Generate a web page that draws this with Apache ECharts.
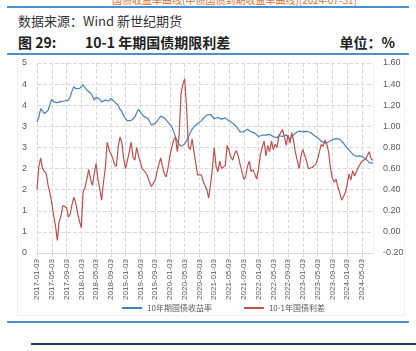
<!DOCTYPE html>
<html>
<head>
<meta charset="utf-8">
<script src="https://cdn.jsdelivr.net/npm/echarts@6/dist/echarts.min.js"></script>
<style>
    html, body { margin: 0; padding: 0; background: #fff; }
    body { width: 416px; height: 351px; position: relative; overflow: hidden; font-family: "Noto Sans CJK SC", sans-serif; }
    .txt { position: absolute; white-space: nowrap; color: #222; }
    .hline { position: absolute; height: 2px; background: #4a90d0; }
</style>
</head>
<body>
<div class="txt" style="left:112px; top:-8px; font-size:10px; color:#e0702a;">国债收益率曲线(中债国债到期收益率曲线)[2024-07-31]</div>
<div class="hline" style="left:7px; top:6px; width:402px;"></div>
<div class="txt" style="left:18px; top:11px; font-size:13px; color:#333;">数据来源：Wind 新世纪期货</div>
<div class="txt" style="left:18px; top:32px; font-size:14px; font-weight:bold;">图 29:</div>
<div class="txt" style="left:85px; top:32px; font-size:14px; font-weight:bold;">10-1 年期国债期限利差</div>
<div class="txt" style="right:21px; top:32px; font-size:14px; font-weight:bold;">单位：%</div>
<div class="hline" style="left:7px; top:53px; width:402px;"></div>
<div style="position:absolute; left:17px; top:58px; width:386px; height:257px; border:1px solid #f0f0f0; border-top:none;"></div>
<div id="chart" style="position:absolute; left:0; top:0; width:416px; height:351px;"></div>
<div class="hline" style="left:7px; top:321px; width:402px;"></div>
<div style="position:absolute; left:31px; top:343px; width:385px; height:2px; background:#1f3864;"></div>

<script>
    // 10年期国债收益率 (left axis, %)
    let yield10 = [
        3.10, 3.22, 3.42, 3.40, 3.30, 3.27, 3.38, 3.52, 3.64, 3.58,
        3.54, 3.56, 3.58, 3.59, 3.61, 3.60, 3.63, 3.62, 3.70, 3.84,
        3.94, 3.89, 3.87, 3.90, 3.94, 3.98, 3.92, 3.86, 3.82, 3.79,
        3.72, 3.62, 3.69, 3.68, 3.64, 3.58, 3.56, 3.62, 3.58, 3.60,
        3.66, 3.63, 3.58, 3.55, 3.50, 3.40, 3.34, 3.24, 3.18, 3.13,
        3.11, 3.14, 3.17, 3.22, 3.32, 3.40, 3.34, 3.28, 3.23, 3.20,
        3.19, 3.12, 3.03, 3.05, 3.07, 3.12, 3.15, 3.24, 3.25, 3.20,
        3.15, 3.11, 3.04, 2.99, 2.88, 2.75, 2.65, 2.58, 2.53, 2.51,
        2.58, 2.66, 2.75, 2.84, 2.93, 2.99, 3.02, 3.06, 3.09, 3.13,
        3.18, 3.22, 3.27, 3.31, 3.28, 3.24, 3.18, 3.19, 3.21, 3.19,
        3.17, 3.18, 3.20, 3.18, 3.13, 3.10, 3.08, 3.04, 2.99, 2.93,
        2.87, 2.88, 2.87, 2.89, 2.93, 2.91, 2.87, 2.85, 2.84, 2.83,
        2.76, 2.73, 2.79, 2.82, 2.79, 2.78, 2.81, 2.80, 2.76, 2.74,
        2.73, 2.78, 2.79, 2.76, 2.77, 2.80, 2.74, 2.69, 2.75, 2.79,
        2.84, 2.87, 2.89, 2.88, 2.87, 2.88, 2.88, 2.87, 2.86, 2.82,
        2.79, 2.77, 2.73, 2.69, 2.65, 2.61, 2.60, 2.60, 2.63, 2.66,
        2.68, 2.70, 2.71, 2.70, 2.69, 2.65, 2.60, 2.54, 2.49, 2.44,
        2.40, 2.34, 2.31, 2.29, 2.30, 2.30, 2.28, 2.26, 2.22, 2.19,
        2.14, 2.12, 2.13
    ];
    // 10-1年国债利差 (right axis, %)
    let spread = [
        0.40, 0.62, 0.70, 0.60, 0.61, 0.55, 0.44, 0.37, 0.27, 0.16,
        0.06, -0.08, 0.10, 0.15, 0.25, 0.26, 0.23, 0.14, 0.17, 0.26,
        0.33, 0.27, 0.18, 0.10, 0.04, 0.38, 0.42, 0.50, 0.59, 0.50,
        0.44, 0.55, 0.65, 0.50, 0.41, 0.30, 0.47, 0.60, 0.85, 0.78,
        0.79, 0.70, 0.64, 0.62, 0.81, 0.90, 0.84, 0.69, 0.60, 0.68,
        0.76, 0.85, 0.71, 0.68, 0.80, 0.72, 0.66, 0.60, 0.58, 0.56,
        0.52, 0.47, 0.43, 0.42, 0.49, 0.57, 0.64, 0.70, 0.62, 0.55,
        0.52, 0.61, 0.72, 0.80, 0.87, 0.90, 0.76, 0.92, 1.31, 1.40,
        1.45, 1.18, 0.81, 0.78, 0.88, 0.76, 0.65, 0.54, 0.53, 0.54,
        0.48, 0.44, 0.40, 0.32, 0.45, 0.60, 0.80, 0.62, 0.57, 0.67,
        0.60, 0.60, 0.63, 0.82, 0.77, 0.71, 0.68, 0.74, 0.77, 0.72,
        0.64, 0.57, 0.50, 0.52, 0.62, 0.67, 0.57, 0.59, 0.60, 0.50,
        0.60, 0.73, 0.80, 0.86, 0.72, 0.82, 0.76, 0.86, 0.78, 0.83,
        0.80, 0.91, 0.92, 0.97, 0.90, 0.82, 0.92, 0.84, 0.94, 0.86,
        0.75, 0.76, 0.60, 0.72, 0.78, 0.77, 0.67, 0.60, 0.60, 0.61,
        0.62, 0.64, 0.69, 0.76, 0.83, 0.81, 0.87, 0.83, 0.75, 0.60,
        0.51, 0.47, 0.50, 0.42, 0.37, 0.30, 0.30, 0.37, 0.45, 0.55,
        0.49, 0.58, 0.53, 0.57, 0.61, 0.60, 0.67, 0.66, 0.69, 0.68,
        0.76, 0.69, 0.68
    ];
    let seriesNames = ['10年期国债收益率', '10-1年国债利差'];

    // dates: the 3rd and 18th of every month, up to 2024-07-31
    let dates = [];
    for (let y = 2017; y <= 2024; y++) {
        for (let m = 1; m <= 12; m++) {
            if (y === 2024 && m > 7) break;
            let mm = m < 10 ? '0' + m : '' + m;
            dates.push(y + '-' + mm + '-03');
            dates.push(y + '-' + mm + '-18');
        }
    }
    dates.push('2024-07-31');

    let chartDom = document.getElementById('chart');
    let myChart = echarts.init(chartDom);
    let labelColor = '#595959';
    let gridColor = '#d9d9d9';
    let option = {
        animation: false,
        textStyle: {
            fontFamily: '"Liberation Sans", "Noto Sans CJK SC", sans-serif'
        },
        grid: {
            left: 37,
            right: 43,
            top: 63,
            bottom: 98
        },
        legend: {
            data: seriesNames,
            left: 117,
            top: 299,
            icon: 'rect',
            itemWidth: 20,
            itemHeight: 2,
            itemGap: 32,
            textStyle: {
                color: labelColor,
                fontSize: 8,
                fontFamily: '"Noto Sans CJK SC", sans-serif'
            }
        },
        xAxis: {
            type: 'category',
            data: dates,
            boundaryGap: false,
            axisLine: {
                lineStyle: { color: gridColor }
            },
            axisTick: {
                interval: 7,
                length: 4,
                lineStyle: { color: gridColor }
            },
            axisLabel: {
                interval: 7,
                rotate: 90,
                fontSize: 8,
                color: labelColor,
                margin: 6
            },
            splitLine: {
                show: true,
                interval: 7,
                lineStyle: { color: gridColor, type: 'dashed' }
            }
        },
        yAxis: [
            {
                type: 'value',
                min: 0,
                max: 4.5,
                interval: 0.5,
                axisLine: { show: false },
                axisTick: { show: false },
                axisLabel: {
                    color: labelColor,
                    fontSize: 9,
                    margin: 10,
                    formatter: function (v) { return Math.round(v); }
                },
                splitLine: {
                    lineStyle: { color: gridColor, type: 'dashed' }
                }
            },
            {
                type: 'value',
                min: -0.2,
                max: 1.6,
                interval: 0.2,
                axisLine: { show: true, lineStyle: { color: '#eeeeee' } },
                axisTick: { show: false },
                axisLabel: {
                    color: labelColor,
                    fontSize: 9,
                    margin: 10,
                    formatter: function (v) { return v.toFixed(2); }
                },
                splitLine: { show: false }
            }
        ],
        series: [
            {
                name: seriesNames[0],
                type: 'line',
                data: yield10,
                yAxisIndex: 0,
                showSymbol: false,
                color: '#4a7ebb',
                lineStyle: { width: 1.2, color: '#4a7ebb' }
            },
            {
                name: seriesNames[1],
                type: 'line',
                data: spread,
                yAxisIndex: 1,
                showSymbol: false,
                color: '#c0504d',
                lineStyle: { width: 1.2, color: '#c0504d' }
            }
        ]
    };
    option && myChart.setOption(option);
</script>
</body>
</html>
